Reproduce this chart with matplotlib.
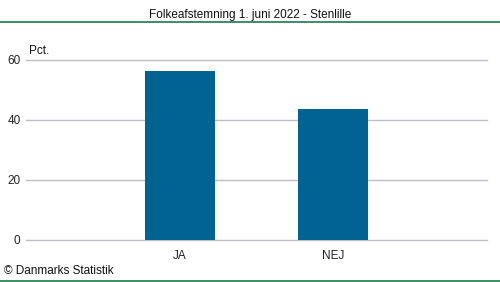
import matplotlib.pyplot as plt
from matplotlib.lines import Line2D

# data
kategorier = ["JA", "NEJ"]
procent = [56.2, 43.8]
yticks = [0, 20, 40, 60]

titel = "Folkeafstemning 1. juni 2022 - Stenlille"
kilde = "\u00a9 Danmarks Statistik"

plt.rcParams['font.family'] = ['Liberation Sans', 'DejaVu Sans']

W, H = 500, 282
fig = plt.figure(figsize=(W / 100, H / 100), dpi=100)
ax = fig.add_axes([26 / W, 1 - 240 / H, (487 - 26) / W, 180 / H])

x = list(range(len(kategorier)))
ax.bar(x, procent, width=0.455, color="#006391", zorder=3)
ax.set_xlim(-1, 2)
ax.set_ylim(0, 60)
ax.set_yticks(yticks)
ax.set_xticks(x)
ax.set_xticklabels(kategorier)
# gitterlinjer, også ved 0 og 60 (ikke klippet)
for v in yticks:
    ax.axhline(v, color="#bdbdc8", linewidth=1, zorder=1, clip_on=False)
for s in ax.spines.values():
    s.set_visible(False)
ax.tick_params(axis="both", length=0, labelsize=8.5, colors="#222222")
ax.tick_params(axis="y", pad=4)
ax.tick_params(axis="x", pad=7)

fig.text(250 / W, 1 - 15 / H, titel, ha="center", va="center", fontsize=8.5, color="#111111")
fig.text(29 / W, 1 - 51 / H, "Pct.", ha="left", va="center", fontsize=8.5, color="#111111")
fig.text(4 / W, 1 - 271 / H, kilde, ha="left", va="center", fontsize=8.5, color="#111111")

# grønne linjer top og bund
fig.add_artist(Line2D([0, 1], [1 - 21.5 / H, 1 - 21.5 / H], transform=fig.transFigure,
                      color="#1a7a4a", linewidth=1.2))
fig.add_artist(Line2D([0, 1], [1 - 280.5 / H, 1 - 280.5 / H], transform=fig.transFigure,
                      color="#1a7a4a", linewidth=1.2))

fig.savefig("out.png", dpi=100)
